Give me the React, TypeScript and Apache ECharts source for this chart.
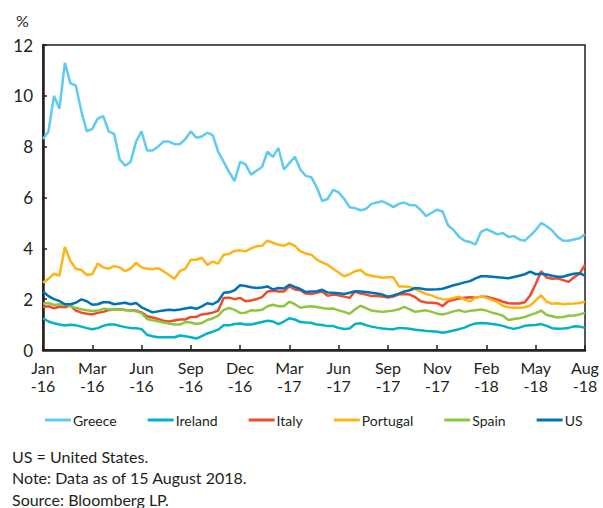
import React, { useEffect, useRef } from "react";
import * as echarts from "echarts";

const tickLabels = ["Jan\n-16", "Mar\n-16", "Jun\n-16", "Sep\n-16", "Dec\n-16", "Mar\n-17", "Jun\n-17", "Sep\n-17", "Nov\n-17", "Feb\n-18", "May\n-18", "Aug\n-18"];
const seriesNames = ["Greece", "Ireland", "Italy", "Portugal", "Spain", "US"];
const seriesColors = ["#5ecbf0", "#00b3c8", "#ef4b2b", "#fdb515", "#8dc63f", "#0072b5"];

const greece = [
  8.3, 8.6, 10.0, 9.5, 11.3, 10.5, 10.4, 9.4, 8.6, 8.7,
  9.1, 9.2, 8.6, 8.5, 7.5, 7.25, 7.4, 8.2, 8.6, 7.85,
  7.85, 8.0, 8.2, 8.2, 8.1, 8.1, 8.3, 8.6, 8.35, 8.4,
  8.55, 8.45, 7.8, 7.4, 7.0, 6.65, 7.4, 7.3, 6.9, 7.05,
  7.2, 7.8, 7.6, 7.95, 7.1, 7.35, 7.6, 7.1, 6.85, 6.8,
  6.4, 5.86, 5.95, 6.3, 6.2, 5.95, 5.62, 5.58, 5.5, 5.55,
  5.75, 5.8, 5.85, 5.75, 5.62, 5.75, 5.8, 5.7, 5.7, 5.5,
  5.27, 5.4, 5.52, 5.45, 4.9, 4.72, 4.45, 4.3, 4.25, 4.15,
  4.65, 4.75, 4.66, 4.55, 4.6, 4.45, 4.48, 4.35, 4.3, 4.5,
  4.72, 5.0, 4.87, 4.7, 4.45, 4.3, 4.3, 4.35, 4.4, 4.55,
];
const ireland = [
  1.25, 1.12, 1.05, 1.0, 0.96, 0.99, 0.97, 0.92, 0.86, 0.82,
  0.86, 0.95, 1.0, 1.0, 0.95, 0.9, 0.87, 0.86, 0.82, 0.6,
  0.54, 0.5, 0.5, 0.5, 0.5, 0.57, 0.54, 0.5, 0.45, 0.55,
  0.65, 0.72, 0.8, 0.97, 0.97, 1.02, 1.04, 1.0, 1.0, 1.05,
  1.1, 1.15, 1.12, 1.02, 1.12, 1.25, 1.2, 1.1, 1.08, 1.07,
  1.0, 0.98, 0.94, 0.94, 0.87, 0.83, 0.85, 1.02, 1.05, 0.98,
  0.92, 0.88, 0.85, 0.83, 0.82, 0.87, 0.86, 0.84, 0.8, 0.78,
  0.75, 0.74, 0.72, 0.68, 0.72, 0.77, 0.82, 0.88, 0.98, 1.04,
  1.06, 1.05, 1.02, 0.99, 0.95, 0.88, 0.83, 0.88, 0.95, 0.97,
  0.98, 1.02, 0.95, 0.86, 0.84, 0.85, 0.87, 0.93, 0.92, 0.87,
];
const italy = [
  1.69, 1.72, 1.64, 1.7, 1.68, 1.75, 1.55, 1.47, 1.43, 1.4,
  1.46, 1.5, 1.57, 1.59, 1.6, 1.57, 1.55, 1.55, 1.48, 1.33,
  1.28, 1.22, 1.15, 1.12, 1.16, 1.2, 1.2, 1.3, 1.3, 1.4,
  1.43, 1.47, 1.55, 2.05, 2.06, 2.0, 2.05, 1.92, 1.95, 2.0,
  2.08, 2.3, 2.33, 2.3, 2.3, 2.5, 2.38, 2.35, 2.22, 2.2,
  2.25, 2.3, 2.13, 2.18, 2.15, 2.1, 2.05, 2.3, 2.22, 2.18,
  2.12, 2.12, 2.1, 2.06, 2.1, 2.19, 2.2, 2.18, 2.08, 1.92,
  1.87, 1.86, 1.84, 1.73, 1.92, 1.98, 2.03, 2.06, 2.08, 2.06,
  2.1, 2.1, 2.04, 1.98, 1.9, 1.84, 1.83, 1.83, 1.88, 2.15,
  2.6, 3.1, 2.85, 2.8, 2.82, 2.75, 2.68, 2.86, 3.0, 3.35,
];
const portugal = [
  2.65, 2.8, 3.0, 2.92, 4.05, 3.5, 3.2, 3.15, 2.95, 2.98,
  3.4, 3.25, 3.2, 3.3, 3.25, 3.1, 3.2, 3.43, 3.25, 3.2,
  3.18, 3.22, 3.1, 2.95, 2.8, 3.1, 3.2, 3.55, 3.55, 3.63,
  3.35, 3.48, 3.4, 3.75, 3.78, 3.9, 3.92, 3.88, 4.0, 4.08,
  4.1, 4.3, 4.22, 4.14, 4.1, 4.2, 4.1, 3.88, 3.8, 3.75,
  3.56, 3.45, 3.35, 3.2, 3.05, 2.9, 2.98, 3.1, 3.15, 2.97,
  2.92, 2.88, 2.84, 2.86, 2.86, 2.5, 2.5, 2.48, 2.4, 2.3,
  2.2, 2.15, 2.05, 2.0, 1.99, 2.05, 2.1, 1.98, 1.92, 2.05,
  2.1, 2.05, 1.97, 1.88, 1.74, 1.68, 1.66, 1.66, 1.68, 1.75,
  1.95, 2.15, 1.9, 1.82, 1.84, 1.8, 1.82, 1.83, 1.85, 1.9,
];
const spain = [
  1.82, 1.85, 1.77, 1.8, 1.78, 1.74, 1.65, 1.6, 1.56, 1.53,
  1.55, 1.62, 1.6, 1.58, 1.59, 1.57, 1.55, 1.52, 1.45, 1.22,
  1.17, 1.13, 1.08, 1.04, 1.0, 1.0, 1.1, 1.08, 1.02, 1.06,
  1.18, 1.24, 1.35, 1.58, 1.65, 1.58, 1.46, 1.47, 1.56, 1.55,
  1.58, 1.72, 1.78, 1.72, 1.72, 1.9, 1.8, 1.66, 1.7, 1.72,
  1.69, 1.65, 1.62, 1.63, 1.56, 1.5, 1.42, 1.6, 1.74, 1.65,
  1.55, 1.52, 1.5, 1.52, 1.55, 1.6, 1.7, 1.6, 1.5, 1.53,
  1.56, 1.5, 1.43, 1.4, 1.45, 1.52, 1.57, 1.5, 1.54, 1.56,
  1.59, 1.55, 1.47, 1.42, 1.35, 1.18, 1.22, 1.25, 1.3, 1.38,
  1.45, 1.55, 1.38, 1.33, 1.28, 1.3, 1.35, 1.36, 1.4, 1.46,
];
const us = [
  2.3, 2.12, 2.0, 1.93, 1.8, 1.8, 1.86, 1.99, 1.92, 1.78,
  1.8, 1.88, 1.88, 1.8, 1.83, 1.86, 1.8, 1.85, 1.68, 1.58,
  1.48, 1.52, 1.55, 1.58, 1.56, 1.59, 1.63, 1.67, 1.62, 1.72,
  1.84, 1.8, 1.92, 2.25, 2.27, 2.35, 2.55, 2.52, 2.47, 2.44,
  2.46, 2.5, 2.38, 2.44, 2.42, 2.57, 2.48, 2.4, 2.28, 2.3,
  2.31, 2.37, 2.26, 2.25, 2.23, 2.2, 2.25, 2.31, 2.3, 2.28,
  2.25, 2.22, 2.18, 2.1, 2.15, 2.22, 2.3, 2.35, 2.44, 2.42,
  2.38, 2.38, 2.39, 2.41, 2.48, 2.55, 2.6, 2.66, 2.71, 2.82,
  2.9, 2.9, 2.88, 2.86, 2.84, 2.82, 2.87, 2.92, 2.98, 3.08,
  2.98, 3.0, 2.97, 2.92, 2.88, 2.88, 2.95, 3.0, 3.02, 2.93,
];
const seriesData = [greece, ireland, italy, portugal, spain, us];
const notes = ["US = United States.", "Note: Data as of 15 August 2018.", "Source: Bloomberg LP."];
const yUnit = "%";

const TEXT = "#231f20";
const FONT = "Lato";

export default function App() {
  const ref = useRef<HTMLDivElement>(null);
  useEffect(() => {
    if (!ref.current) return;
    const chart = echarts.init(ref.current, null, { renderer: "svg" });
    const step = (greece.length - 1) / (tickLabels.length - 1);
    const categories = greece.map((_, i) => String(i));
    chart.setOption({
      animation: false,
      backgroundColor: "#ffffff",
      textStyle: { fontFamily: FONT, color: TEXT },
      grid: { left: 43, right: 18, top: 45, bottom: 158, show: true, borderColor: TEXT, borderWidth: 1.5, backgroundColor: "transparent" },
      legend: {
        data: seriesNames,
        left: 40,
        top: 408,
        itemWidth: 26,
        itemHeight: 3,
        itemGap: 31,
        icon: "rect",
        textStyle: { fontFamily: FONT, fontSize: 14, color: TEXT, padding: [0, 0, 0, -3] },
      },
      xAxis: {
        type: "category",
        data: categories,
        boundaryGap: false,
        axisLine: { lineStyle: { color: TEXT, width: 2.5 } },
        axisTick: { show: true, inside: true, length: 5, interval: step - 1, lineStyle: { color: TEXT, width: 1.5 } },
        axisLabel: {
          interval: step - 1,
          formatter: (v: string) => tickLabels[Math.round(Number(v) / step)] ?? "",
          fontFamily: FONT,
          fontSize: 16,
          color: TEXT,
          lineHeight: 18,
          margin: 8,
        },
        splitLine: { show: false },
      },
      yAxis: {
        type: "value",
        min: 0,
        max: 12,
        interval: 2,
        axisLine: { show: true, lineStyle: { color: TEXT, width: 2.5 } },
        axisTick: { show: true, inside: true, length: 4, lineStyle: { color: TEXT, width: 1.5 } },
        axisLabel: { fontFamily: FONT, fontSize: 17, color: TEXT, margin: 10 },
        splitLine: { show: false },
      },
      series: seriesNames.map((name, k) => ({
        name,
        type: "line",
        data: seriesData[k],
        symbol: "none",
        color: seriesColors[k],
        lineStyle: { width: 2.5, color: seriesColors[k] },
      })),
      graphic: [
        { type: "text", left: 16, top: 12, style: { text: yUnit, font: `16px ${FONT}`, fill: TEXT } },
        ...notes.map((t, i) => ({
          type: "text",
          left: 12,
          top: 448 + i * 21.5,
          style: { text: t, font: `16px ${FONT}`, fill: TEXT },
        })),
      ],
    });
    return () => chart.dispose();
  }, []);
  return <div ref={ref} style={{ position: "absolute", left: 0, top: 0, width: 603, height: 508 }} />;
}
